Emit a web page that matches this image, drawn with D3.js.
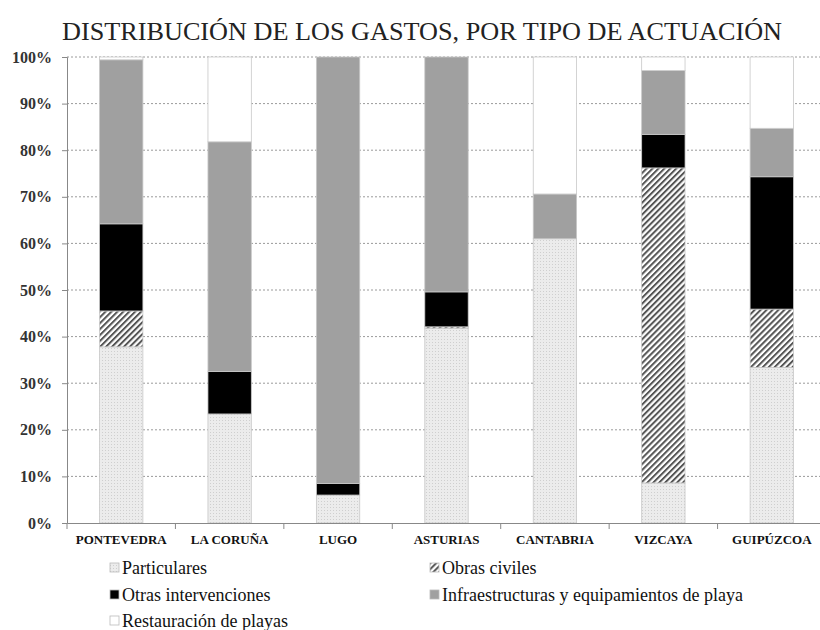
<!DOCTYPE html>
<html lang="es">
<head>
<meta charset="utf-8">
<script src="https://cdn.jsdelivr.net/npm/d3@7/dist/d3.min.js"></script>
<style>
  body { margin: 0; background: #fff; }
</style>
</head>
<body>
<div id="chart"></div>
<script>
// values in % of each province's total spending
var categories = ["PONTEVEDRA", "LA CORUÑA", "LUGO", "ASTURIAS", "CANTABRIA", "VIZCAYA", "GUIPÚZCOA"];
var particulares = [37.8, 23.4, 6.0, 41.8, 61.0, 8.6, 33.4];
var obrasCiviles = [7.7, 0, 0, 0.3, 0, 67.6, 12.5];
var otrasIntervenciones = [18.7, 9.1, 2.5, 7.5, 0, 7.2, 28.4];
var infraestructuras = [35.2, 49.3, 91.5, 50.4, 9.6, 13.7, 10.4];
var restauracion = [0.6, 18.2, 0, 0, 29.4, 2.9, 15.3];
var yTicks = [0, 10, 20, 30, 40, 50, 60, 70, 80, 90, 100];

var seriesNames = ["Particulares", "Obras civiles", "Otras intervenciones",
                   "Infraestructuras y equipamientos de playa", "Restauración de playas"];
var seriesValues = [particulares, obrasCiviles, otrasIntervenciones, infraestructuras, restauracion];
var fills = ["url(#dots)", "url(#hatch)", "#000", "#a0a0a0", "#fff"];

var serif = "'Liberation Serif', 'Times New Roman', serif";
var w = 820, h = 630;
var svg = d3.select("#chart").append("svg")
    .attr("width", w).attr("height", h)
    .style("display", "block")
    .style("overflow", "hidden");

// patterns
var defs = svg.append("defs");
var dots = defs.append("pattern").attr("id", "dots")
    .attr("patternUnits", "userSpaceOnUse").attr("width", 3).attr("height", 3);
dots.append("rect").attr("width", 3).attr("height", 3).attr("fill", "#ececec");
dots.append("rect").attr("width", 1).attr("height", 1).attr("fill", "#cfcfcf");
var hatch = defs.append("pattern").attr("id", "hatch")
    .attr("patternUnits", "userSpaceOnUse").attr("width", 4.2).attr("height", 4.2)
    .attr("patternTransform", "rotate(45)");
hatch.append("rect").attr("width", 4.2).attr("height", 4.2).attr("fill", "#fff");
hatch.append("rect").attr("width", 2).attr("height", 4.2).attr("fill", "#555");

// build table for the stack
var table = categories.map(function (c, i) {
    var row = { cat: c };
    seriesNames.forEach(function (s, j) { row[s] = seriesValues[j][i]; });
    return row;
});
var stack = d3.stack().keys(seriesNames)(table);

var x = d3.scaleBand().domain(categories).range([67, 826]).paddingInner(0.6).paddingOuter(0.3);
var y = d3.scaleLinear().domain([0, 100]).range([523, 57]);

// title
svg.append("text")
    .attr("x", 422).attr("y", 40)
    .attr("text-anchor", "middle")
    .style("font-family", serif)
    .attr("font-size", 26)
    .attr("textLength", 720).attr("lengthAdjust", "spacingAndGlyphs")
    .attr("fill", "#222")
    .text("DISTRIBUCIÓN DE LOS GASTOS, POR TIPO DE ACTUACIÓN");

// grid lines
svg.append("g").selectAll("line")
    .data(yTicks.filter(function (d) { return d > 0; }))
    .enter().append("line")
    .attr("x1", 67).attr("x2", w)
    .attr("y1", function (d) { return y(d); })
    .attr("y2", function (d) { return y(d); })
    .attr("stroke", "#9a9a9a").attr("stroke-width", 1)
    .attr("stroke-dasharray", "2,2");

// bars
var layers = svg.append("g").selectAll("g")
    .data(stack).enter().append("g")
    .attr("fill", function (d, i) { return fills[i]; });
layers.selectAll("rect")
    .data(function (d) { return d.filter(function (p) { return p[1] - p[0] > 0; }); })
    .enter().append("rect")
    .attr("x", function (d) { return x(d.data.cat); })
    .attr("width", x.bandwidth())
    .attr("y", function (d) { return y(d[1]); })
    .attr("height", function (d) { return y(d[0]) - y(d[1]); })
    .attr("stroke", "#c8c8c8").attr("stroke-width", 0.8);

// y axis
var yAxis = d3.axisLeft(y).tickValues(yTicks).tickSize(5)
    .tickFormat(function (d) { return d + "%"; });
var yg = svg.append("g").attr("transform", "translate(67,0)").call(yAxis);
yg.select(".domain").attr("stroke", "#888");
yg.selectAll(".tick line").attr("stroke", "#888");
yg.selectAll(".tick text")
    .attr("x", -15)
    .style("font-family", serif)
    .attr("font-size", 16).attr("font-weight", "bold").attr("fill", "#333");

// x axis
var xAxis = d3.axisBottom(x).tickSize(0).tickPadding(12);
var xg = svg.append("g").attr("transform", "translate(0,523)").call(xAxis);
xg.select(".domain").attr("stroke", "#888");
xg.selectAll(".tick text")
    .style("font-family", serif)
    .attr("font-size", 13).attr("font-weight", "bold").attr("fill", "#111");
// boundary ticks between categories
svg.append("g").selectAll("line")
    .data(categories)
    .enter().append("line")
    .attr("x1", function (c) { return x(c) + x.bandwidth() / 2 - x.step() / 2; })
    .attr("x2", function (c) { return x(c) + x.bandwidth() / 2 - x.step() / 2; })
    .attr("y1", 523).attr("y2", 529)
    .attr("stroke", "#888");

// legend
var legendPos = [[110, 568], [430, 568], [110, 595], [430, 595], [110, 621]];
var legend = svg.append("g").selectAll("g")
    .data(seriesNames).enter().append("g")
    .attr("transform", function (d, i) { return "translate(" + legendPos[i][0] + "," + legendPos[i][1] + ")"; });
legend.append("rect")
    .attr("x", 0).attr("y", -5).attr("width", 9).attr("height", 9)
    .attr("fill", function (d, i) { return fills[i]; })
    .attr("stroke", "#bbb").attr("stroke-width", 0.8);
legend.append("text")
    .attr("x", 12).attr("y", 6)
    .style("font-family", serif)
    .attr("font-size", 18).attr("fill", "#111")
    .text(function (d) { return d; });
</script>
</body>
</html>
